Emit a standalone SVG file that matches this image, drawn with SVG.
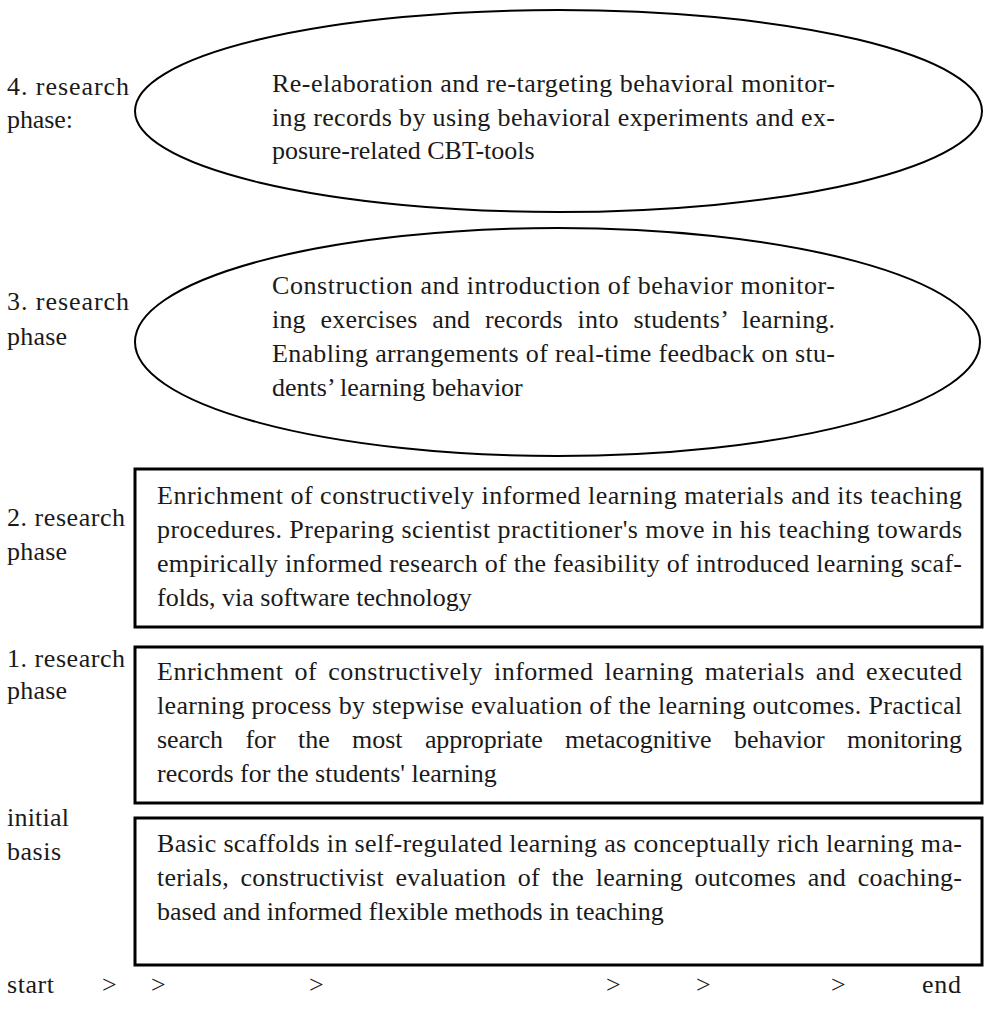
<svg xmlns="http://www.w3.org/2000/svg" width="987" height="1013" viewBox="0 0 987 1013">
  <style>
    text { font-family: "Liberation Serif", "Times New Roman", serif; font-size: 26px; fill: #1a1a1a; }
    .oval { fill: none; stroke: #000; stroke-width: 2; }
    .box { fill: none; stroke: #000; stroke-width: 3; }
  </style>
  <rect x="0" y="0" width="987" height="1013" fill="#fff"/>

  <!-- phase labels on the left -->
  <g id="labels">
    <text x="7" y="95" textLength="122">4. research</text>
    <text x="7" y="128" textLength="66">phase:</text>
    <text x="7" y="310" textLength="122">3. research</text>
    <text x="7" y="345" textLength="60">phase</text>
    <text x="7" y="526" textLength="118">2. research</text>
    <text x="7" y="560" textLength="60">phase</text>
    <text x="7" y="667" textLength="118">1. research</text>
    <text x="7" y="699" textLength="60">phase</text>
    <text x="7" y="826" textLength="62">initial</text>
    <text x="7" y="860" textLength="54">basis</text>
  </g>

  <!-- 4th research phase -->
  <g id="phase4">
    <ellipse class="oval" cx="558.5" cy="111" rx="423.5" ry="101"/>
    <text x="272" y="92" textLength="563">Re-elaboration and re-targeting behavioral monitor-</text>
    <text x="272" y="126" textLength="563">ing records by using behavioral experiments and ex-</text>
    <text x="272" y="159">posure-related CBT-tools</text>
  </g>

  <!-- 3rd research phase -->
  <g id="phase3">
    <ellipse class="oval" cx="557.5" cy="342" rx="422.5" ry="114"/>
    <text x="272" y="294" textLength="563">Construction and introduction of behavior monitor-</text>
    <text x="272" y="328" textLength="563" lengthAdjust="spacing" word-spacing="8">ing exercises and records into students’ learning.</text>
    <text x="272" y="362" textLength="563">Enabling arrangements of real-time feedback on stu-</text>
    <text x="272" y="396">dents’ learning behavior</text>
  </g>

  <!-- 2nd research phase -->
  <g id="phase2">
    <rect class="box" x="135" y="469" width="847" height="158"/>
    <text x="157" y="504" textLength="805">Enrichment of constructively informed learning materials and its teaching</text>
    <text x="157" y="538" textLength="805">procedures. Preparing scientist practitioner's move in his teaching towards</text>
    <text x="157" y="572" textLength="805">empirically informed research of the feasibility of introduced learning scaf-</text>
    <text x="157" y="606">folds, via software technology</text>
  </g>

  <!-- 1st research phase -->
  <g id="phase1">
    <rect class="box" x="135" y="647" width="847" height="156"/>
    <text x="157" y="680" textLength="805" word-spacing="4">Enrichment of constructively informed learning materials and executed</text>
    <text x="157" y="714" textLength="805">learning process by stepwise evaluation of the learning outcomes. Practical</text>
    <text x="157" y="748" textLength="805" word-spacing="16">search for the most appropriate metacognitive behavior monitoring</text>
    <text x="157" y="782">records for the students' learning</text>
  </g>

  <!-- initial basis -->
  <g id="basis">
    <rect class="box" x="135" y="818" width="847" height="147"/>
    <text x="157" y="852" textLength="805">Basic scaffolds in self-regulated learning as conceptually rich learning ma-</text>
    <text x="157" y="886" textLength="805" word-spacing="5">terials, constructivist evaluation of the learning outcomes and coaching-</text>
    <text x="157" y="920">based and informed flexible methods in teaching</text>
  </g>

  <!-- timeline along the bottom -->
  <g id="connectors">
    <text x="7" y="993" textLength="47">start</text>
    <text x="102" y="993">&gt;</text>
    <text x="151" y="993">&gt;</text>
    <text x="309" y="993">&gt;</text>
    <text x="606" y="993">&gt;</text>
    <text x="696" y="993">&gt;</text>
    <text x="831" y="993">&gt;</text>
    <text x="922" y="993" textLength="39">end</text>
  </g>
</svg>
